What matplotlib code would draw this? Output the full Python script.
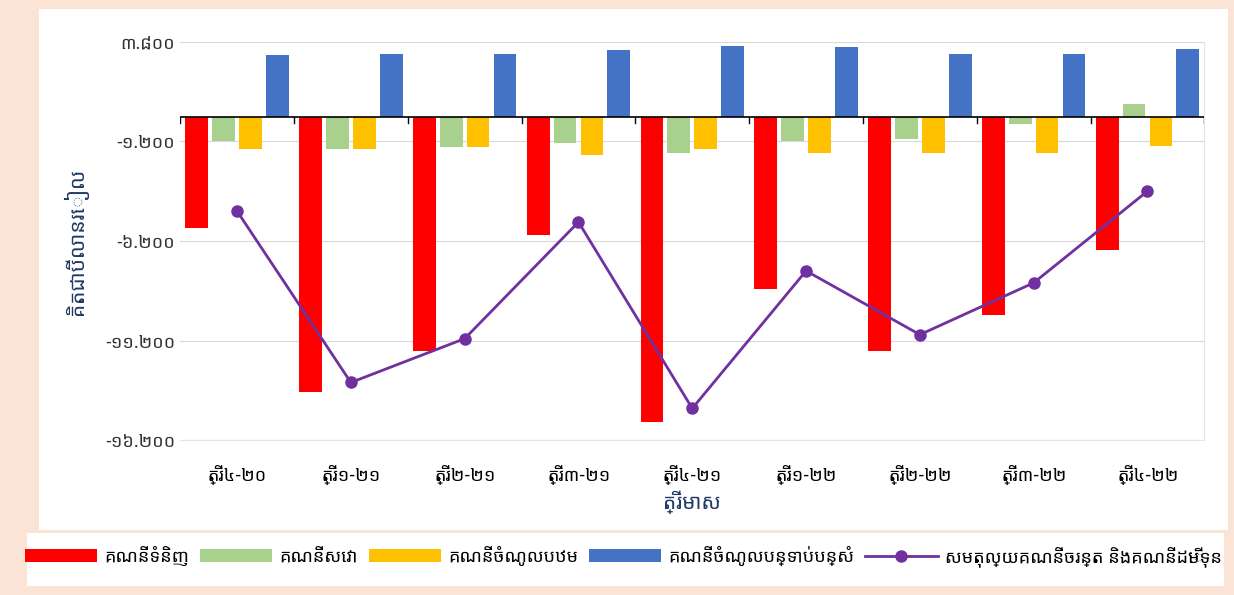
import numpy as np
import matplotlib.pyplot as plt
from matplotlib.patches import Rectangle

plt.rcParams['font.family'] = ['Noto Sans Khmer', 'Khmer OS', 'DejaVu Sans']

quarters = ["ត្រី៤-២០", "ត្រី១-២១", "ត្រី២-២១", "ត្រី៣-២១", "ត្រី៤-២១",
            "ត្រី១-២២", "ត្រី២-២២", "ត្រី៣-២២", "ត្រី៤-២២"]
trade = [-5.56, -13.8, -11.7, -5.9, -15.3, -8.6, -11.7, -9.9, -6.67]
services = [-1.2, -1.6, -1.5, -1.3, -1.8, -1.2, -1.06, -0.35, 0.66]
primary = [-1.6, -1.57, -1.5, -1.87, -1.6, -1.8, -1.77, -1.77, -1.46]
secondary = [3.13, 3.18, 3.18, 3.38, 3.59, 3.54, 3.18, 3.18, 3.43]
balance = [-4.7, -13.3, -11.1, -5.25, -14.6, -7.7, -10.9, -8.3, -3.7]
yticks = [3.8, -1.2, -6.2, -11.2, -16.2]

names = ["គណនីទំនិញ", "គណនីសេវា", "គណនីចំណូលបឋម", "គណនីចំណូលបន្ទាប់បន្សំ",
         "សមតុល្យគណនីចរន្ត និងគណនីដើមទុន"]
colors = ["#FF0000", "#A9D18E", "#FFC000", "#4472C4"]

def khmer(v):
    s = f"{v:.3f}"
    return s.translate(str.maketrans("0123456789", "០១២៣៤៥៦៧៨៩"))

fig = plt.figure(figsize=(12.34, 5.95), dpi=100, facecolor="#FBE3D5")
bg = fig.add_axes([0, 0, 1, 1], zorder=-1)
bg.axis("off")
bg.set_xlim(0, 1); bg.set_ylim(0, 1)
bg.add_patch(Rectangle((0.032, 0.11), 0.963, 0.875, facecolor="white", edgecolor="none"))
bg.add_patch(Rectangle((0.022, 0.015), 0.97, 0.09, facecolor="white", edgecolor="none"))

ax = fig.add_axes([0.146, 0.26, 0.83, 0.67], zorder=1)
x = np.arange(len(quarters))
w = 0.2
for i, (d, c) in enumerate(zip([trade, services, primary, secondary], colors)):
    ax.bar(x + (i - 1.5) * w * 1.18, d, w, color=c, label=names[i], zorder=2)
ax.plot(x, balance, color="#7030A0", lw=2, marker="o", ms=8, label=names[4], zorder=3)
ax.set_ylim(-16.2, 3.8)
ax.set_xlim(-0.5, len(quarters) - 0.5)
ax.set_yticks(yticks)
ax.set_yticklabels([khmer(v) for v in yticks], fontsize=13, color="#333")
ax.grid(axis="y", color="#d9d9d9", zorder=0)
ax.axhline(0, color="black", lw=1.2, zorder=4)
for s in ax.spines.values():
    s.set_color("#e6e6e6")
ax.spines["left"].set_visible(False)
ax.spines["top"].set_visible(False)
ax.tick_params(axis="y", length=0)
ax.set_xticks(x)
ax.set_xticklabels(quarters, fontsize=13)
ax.tick_params(axis="x", length=0, pad=18)
for xi in np.arange(len(quarters) + 1) - 0.5:
    ax.plot([xi, xi], [0, -0.3], color="black", lw=1, zorder=4)
ax.set_xlabel("ត្រីមាស", fontsize=15, color="#1F3864")
ax.set_ylabel("គិតជាប៊ីលានរៀល", fontsize=15, color="#1F3864", labelpad=12)

h, l = ax.get_legend_handles_labels()
order = [1, 2, 3, 4, 0]
fig.legend([h[i] for i in order], [l[i] for i in order], loc="lower center",
           bbox_to_anchor=(0.505, 0.02), ncol=5, frameon=False,
           fontsize=13, handlelength=4, columnspacing=0.6, handletextpad=0.4)
fig.savefig("out.png", facecolor=fig.get_facecolor())
